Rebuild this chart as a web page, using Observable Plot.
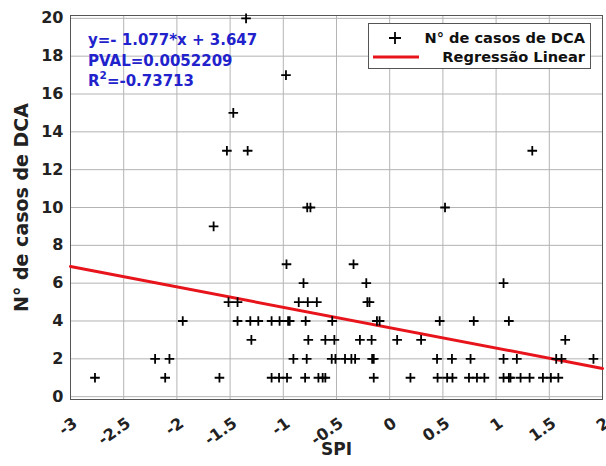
<!DOCTYPE html>
<html><head><meta charset="utf-8">
<script src="https://cdn.jsdelivr.net/npm/d3@7"></script>
<script src="https://cdn.jsdelivr.net/npm/@observablehq/plot@0.6"></script>
<style>
body{margin:0;background:#fff;font-family:"DejaVu Sans",sans-serif;}
#wrap{position:relative;width:606px;height:466px;overflow:hidden;}
.note{position:absolute;left:88px;top:30px;color:#2222cc;font-weight:bold;font-size:15px;line-height:20.5px;white-space:nowrap;}
.note sup{font-size:10.5px;line-height:0;position:relative;top:-1px;}
.legend{position:absolute;left:368px;top:23px;width:223px;height:46px;border:1px solid #555;background:#fff;box-sizing:border-box;font-weight:bold;font-size:14.6px;color:#111;}
.legend .r{position:absolute;right:5px;white-space:nowrap;}
</style></head><body><div id="wrap"></div>
<script>
// SPI values (x) and number of DCA cases (y)
const spi = [
  -1.35,
  -0.975,
  -1.47,
  -1.53, -1.335, 1.34,
  -0.775, -0.745, 0.52,
  -1.655,
  -0.97, -0.34,
  -0.81, -0.22, 1.07,
  -1.515, -1.43, -0.855, -0.77, -0.685, -0.21, -0.19,
  -1.945, -1.43, -1.31, -1.235, -1.11, -1.035, -0.955, -0.94, -0.79, -0.54, -0.12, -0.095, 0.47, 0.79, 1.12,
  -1.3, -0.765, -0.605, -0.52, -0.28, -0.17, 0.07, 0.295, 1.65,
  -2.205, -2.07, -0.905, -0.78, -0.545, -0.51, -0.42, -0.36, -0.325, -0.165, -0.15, 0.445, 0.585, 0.76, 1.07, 1.195, 1.565, 1.615, 1.915,
  -2.77, -2.11, -1.6, -1.11, -1.04, -0.965, -0.795, -0.67, -0.63, -0.605, -0.15, 0.195, 0.45, 0.54, 0.59, 0.745, 0.82, 0.89, 1.07, 1.12, 1.135, 1.23, 1.315, 1.44, 1.515, 1.585
];
const casos = [
  20,
  17,
  15,
  13, 13, 13,
  10, 10, 10,
  9,
  7, 7,
  6, 6, 6,
  5, 5, 5, 5, 5, 5, 5,
  4, 4, 4, 4, 4, 4, 4, 4, 4, 4, 4, 4, 4, 4, 4,
  3, 3, 3, 3, 3, 3, 3, 3, 3,
  2, 2, 2, 2, 2, 2, 2, 2, 2, 2, 2, 2, 2, 2, 2, 2, 2, 2, 2,
  1, 1, 1, 1, 1, 1, 1, 1, 1, 1, 1, 1, 1, 1, 1, 1, 1, 1, 1, 1, 1, 1, 1, 1, 1, 1
];
// linear regression coefficients
const slope = -1.077;
const intercept = 3.647;
const regX = [-3, 2];
// ticks
const xTicks = [-3, -2.5, -2, -1.5, -1, -0.5, 0, 0.5, 1, 1.5, 2];
const xTickLabels = ["-3", "-2.5", "-2", "-1.5", "-1", "-0.5", "0", "0.5", "1", "1.5", "2"];
const yTicks = [0, 2, 4, 6, 8, 10, 12, 14, 16, 18, 20];
const yTickLabels = ["0", "2", "4", "6", "8", "10", "12", "14", "16", "18", "20"];
// texts
const xLabel = "SPI";
const yLabel = "N° de casos de DCA";
const seriesName = "N° de casos de DCA";
const regName = "Regressão Linear";
const eqText = "y=- 1.077*x + 3.647";
const pvalText = "PVAL=0.0052209";
const r2Text = "-0.73713";

const pts = spi.map((x, i) => ({x, y: casos[i]}));
const reg = regX.map(x => ({x, y: slope * x + intercept}));

const chart = Plot.plot({
  width: 606, height: 466,
  marginLeft: 70, marginRight: 4, marginTop: 15, marginBottom: 67,
  style: {fontFamily: "DejaVu Sans", fontWeight: "bold", fontSize: "16px", color: "#222", background: "#fff", overflow: "visible"},
  x: {domain: [-3, 2]},
  y: {domain: [-0.15, 20.15]},
  marks: [
    Plot.gridX(xTicks, {stroke: "#b4b4b4", strokeOpacity: 1}),
    Plot.gridY(yTicks, {stroke: "#b4b4b4", strokeOpacity: 1}),
    Plot.frame({stroke: "#555"}),
    Plot.axisX(xTicks, {tickSize: 0, tickRotate: -35, tickPadding: 22, dx: 5, tickFormat: d => xTickLabels[xTicks.indexOf(d)], label: null, fontSize: 16}),
    Plot.axisY(yTicks, {tickSize: 0, tickPadding: 7, tickFormat: d => yTickLabels[yTicks.indexOf(d)], label: null, fontSize: 16}),
    Plot.line(reg, {x: "x", y: "y", stroke: "#e8141c", strokeWidth: 3}),
    Plot.dot(pts, {x: "x", y: "y", symbol: "plus", r: 3.2, stroke: "#000", strokeWidth: 1.8}),
    Plot.text([xLabel], {frameAnchor: "bottom", dy: 55, fontSize: 17, fontWeight: "bold", fill: "#222"}),
    Plot.text([yLabel], {frameAnchor: "left", textAnchor: "middle", dx: -49, rotate: -90, fontSize: 19, fontWeight: "bold", fill: "#222"})
  ]
});

const wrap = document.getElementById("wrap");
wrap.appendChild(chart);

const note = document.createElement("div");
note.className = "note";
note.innerHTML = `${eqText}<br>${pvalText}<br>R<sup>2</sup>=${r2Text}`;
wrap.appendChild(note);

const lg = document.createElement("div");
lg.className = "legend";
lg.innerHTML = `
<svg width="60" height="44" style="position:absolute;left:0;top:0">
  <path d="M20,14h12M26,8v12" stroke="#000" stroke-width="1.8"/>
  <path d="M4,33h46" stroke="#e8141c" stroke-width="3"/>
</svg>
<div class="r" style="top:5px">${seriesName}</div>
<div class="r" style="top:24px">${regName}</div>`;
wrap.appendChild(lg);
</script>
</body></html>
